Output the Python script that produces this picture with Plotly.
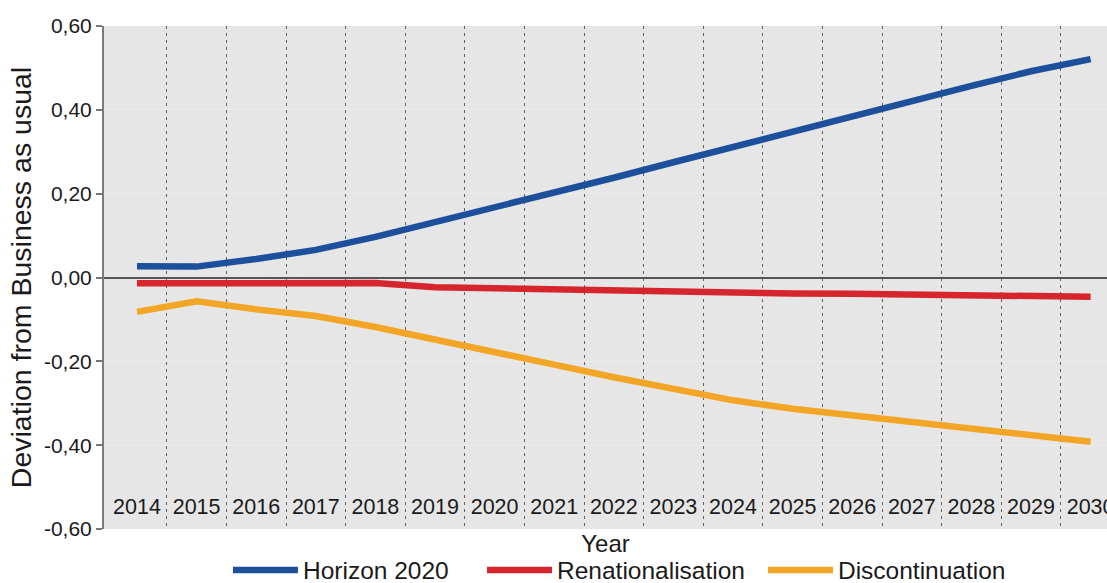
import plotly.graph_objects as go

years = list(range(2014, 2031))
horizon_2020 = [0.027, 0.026, 0.044, 0.066, 0.097, 0.132, 0.165, 0.201, 0.238,
                0.275, 0.312, 0.347, 0.384, 0.421, 0.457, 0.492, 0.521]
renationalisation = [-0.014, -0.014, -0.014, -0.013, -0.013, -0.023, -0.026, -0.028, -0.030,
                     -0.034, -0.037, -0.038, -0.039, -0.041, -0.042, -0.043, -0.046]
discontinuation = [-0.082, -0.057, -0.076, -0.092, -0.118, -0.149, -0.177, -0.208, -0.238,
                   -0.267, -0.293, -0.313, -0.329, -0.345, -0.362, -0.378, -0.392]

y_tick_vals = [-0.6, -0.4, -0.2, 0.0, 0.2, 0.4, 0.6]
y_tick_text = ["-0,60", "-0,40", "-0,20", "0,00", "0,20", "0,40", "0,60"]
x_tick_text = [str(y) for y in years]
boundaries = [y + 0.5 for y in years[:-1]]

FONT = "Liberation Sans, Arial, sans-serif"

fig = go.Figure()
series = [
    ("Horizon 2020", horizon_2020, "#1c4f9c", "legend", 0.1236),
    ("Renationalisation", renationalisation, "#d6252d", "legend2", 0.3769),
    ("Discontinuation", discontinuation, "#f3a625", "legend3", 0.6570),
]
legend_common = dict(orientation="h", y=-0.0815, yanchor="middle", xanchor="left",
                     font=dict(size=24.5, family=FONT, color="#1a1a1a"),
                     bgcolor="rgba(0,0,0,0)", itemwidth=65)
legends = {}
for name, vals, col, leg, lx in series:
    fig.add_trace(go.Scatter(x=years, y=vals, name=name, mode="lines", legend=leg,
                             line=dict(color=col, width=6.5)))
    legends[leg] = dict(legend_common, x=lx)

fig.update_layout(
    width=1107, height=583,
    margin=dict(l=104, r=0, t=26, b=54, pad=0, autoexpand=False),
    paper_bgcolor="white",
    plot_bgcolor="#e6e6e6",
    font=dict(family=FONT, color="#1a1a1a", size=21),
    showlegend=True,
    xaxis=dict(
        range=[2013.446, 2030.275],
        automargin=False,
        tickmode="array", tickvals=years, ticktext=x_tick_text,
        ticklabelposition="inside", ticklabeloverflow="allow",
        ticklabelstandoff=8,
        ticks="", showgrid=False, showline=False, zeroline=False,
        tickfont=dict(size=21.5, family=FONT, color="#1a1a1a"),
        minor=dict(tickmode="array", tickvals=boundaries, showgrid=True,
                   gridcolor="#5f5f5f", gridwidth=1, griddash="3px,4px", ticks=""),
        title=dict(text="Year", font=dict(size=24, family=FONT, color="#1a1a1a"), standoff=17),
    ),
    yaxis=dict(
        range=[-0.6, 0.6],
        automargin=False,
        tickmode="array", tickvals=y_tick_vals, ticktext=y_tick_text,
        ticks="outside", ticklen=6, tickwidth=1.5, tickcolor="#777777",
        showline=True, linecolor="#7a7a7a", linewidth=2,
        showgrid=True, gridcolor="#ececec", gridwidth=1,
        zeroline=True, zerolinecolor="#555555", zerolinewidth=1.5,
        tickfont=dict(size=21, family=FONT, color="#1a1a1a"),
        title=dict(text="Deviation from Business as usual",
                   font=dict(size=28.5, family=FONT, color="#1a1a1a"), standoff=4),
    ),
    **legends,
)

fig.write_html("out.html", config={"displayModeBar": False},
               post_script="document.body.style.margin='0';document.body.style.overflow='hidden';")
